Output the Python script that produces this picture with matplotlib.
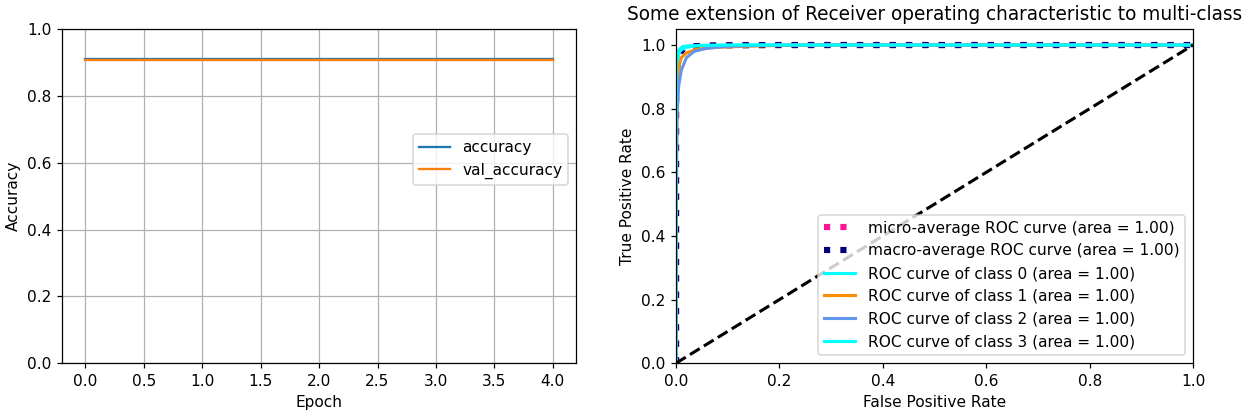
import matplotlib
matplotlib.use('Agg')
import matplotlib.pyplot as plt

# --- Training history ---
epochs       = [0, 1, 2, 3, 4]
accuracy     = [0.912, 0.912, 0.912, 0.912, 0.912]
val_accuracy = [0.907, 0.907, 0.907, 0.907, 0.907]

# --- ROC curves ---
fpr_micro = [0.0, 0.0, 0.003, 0.008, 0.015, 0.03, 0.1, 1.0]
tpr_micro = [0.0, 0.9, 0.96, 0.98, 0.99, 0.996, 1.0, 1.0]
fpr_macro = [0.0, 0.0, 0.003, 0.008, 0.015, 0.03, 0.08, 0.2, 1.0]
tpr_macro = [0.0, 0.85, 0.95, 0.975, 0.99, 0.996, 0.999, 1.0, 1.0]

fpr_c0 = [0.0, 0.0, 0.001, 0.003, 0.006, 0.01, 0.02, 0.04, 0.08, 0.15, 1.0]
tpr_c0 = [0.0, 0.6, 0.9, 0.95, 0.975, 0.985, 0.993, 0.997, 0.999, 1.0, 1.0]
fpr_c1 = [0.0, 0.0, 0.002, 0.005, 0.01, 0.02, 0.04, 0.08, 0.15, 0.25, 1.0]
tpr_c1 = [0.0, 0.5, 0.88, 0.93, 0.96, 0.975, 0.987, 0.993, 0.997, 1.0, 1.0]
fpr_c2 = [0.0, 0.0, 0.002, 0.005, 0.01, 0.02, 0.035, 0.06, 0.1, 0.2, 1.0]
tpr_c2 = [0.0, 0.4, 0.78, 0.87, 0.92, 0.96, 0.98, 0.99, 0.996, 1.0, 1.0]
fpr_c3 = [0.0, 0.0, 0.001, 0.003, 0.006, 0.01, 0.02, 0.05, 0.1, 1.0]
tpr_c3 = [0.0, 0.7, 0.93, 0.97, 0.985, 0.992, 0.997, 0.999, 1.0, 1.0]

class_fpr = [fpr_c0, fpr_c1, fpr_c2, fpr_c3]
class_tpr = [tpr_c0, tpr_c1, tpr_c2, tpr_c3]
class_auc = [1.00, 1.00, 1.00, 1.00]
colors    = ['aqua', 'darkorange', 'cornflowerblue', 'aqua']
lw = 2

DPI = 111
fig = plt.figure(figsize=(1248 / DPI, 416 / DPI), dpi=DPI)
ax1 = fig.add_axes([0.0497, 0.127, 0.412, 0.803])
ax2 = fig.add_axes([0.5417, 0.127, 0.4143, 0.803])

# --- Left: accuracy ---
ax1.plot(epochs, accuracy, label='accuracy')
ax1.plot(epochs, val_accuracy, label='val_accuracy')
ax1.set_xlabel('Epoch')
ax1.set_ylabel('Accuracy')
ax1.set_ylim(0, 1)
ax1.grid(True)
ax1.legend(loc='center right', bbox_to_anchor=(1.0, 0.61))

# --- Right: ROC ---
ax2.plot(fpr_micro, tpr_micro,
         label='micro-average ROC curve (area = {0:0.2f})'.format(1.00),
         color='deeppink', linestyle=':', linewidth=4)
ax2.plot(fpr_macro, tpr_macro,
         label='macro-average ROC curve (area = {0:0.2f})'.format(1.00),
         color='navy', linestyle=':', linewidth=4)
for i, color in enumerate(colors):
    ax2.plot(class_fpr[i], class_tpr[i], color=color, lw=lw,
             label='ROC curve of class {0} (area = {1:0.2f})'.format(i, class_auc[i]))
ax2.plot([0, 1], [0, 1], 'k--', lw=lw)
ax2.set_xlim([0.0, 1.0])
ax2.set_ylim([0.0, 1.05])
ax2.set_xlabel('False Positive Rate')
ax2.set_ylabel('True Positive Rate')
ax2.set_title('Some extension of Receiver operating characteristic to multi-class')
ax2.legend(loc='lower right')

fig.savefig('out.png', dpi=DPI)
